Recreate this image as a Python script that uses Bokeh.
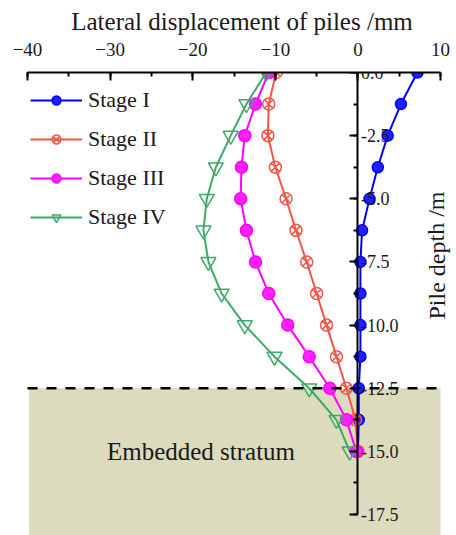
from bokeh.plotting import figure
from bokeh.models import (Range1d, SingleIntervalTicker, BoxAnnotation, Label,
                          Legend, LegendItem, NumeralTickFormatter)
from bokeh.embed import file_html
from bokeh.resources import INLINE

depth = [0, -1.25, -2.5, -3.75, -5, -6.25, -7.5, -8.75, -10, -11.25, -12.5, -13.75, -15]
stage1 = [7.2, 5.2, 3.6, 2.4, 1.4, 0.5, 0.3, 0.3, 0.3, 0.3, 0.1, 0.1, 0.0]
stage2 = [-9.9, -10.8, -10.9, -10.0, -8.7, -7.5, -6.2, -5.0, -3.8, -2.6, -1.4, -0.3, 0.0]
stage3 = [-10.8, -12.4, -13.7, -14.1, -14.2, -13.5, -12.4, -10.8, -8.5, -5.9, -3.4, -1.4, -0.2]
stage4 = [-11.1, -13.5, -15.4, -17.2, -18.3, -18.7, -18.1, -16.5, -13.7, -10.1, -5.9, -2.6, -1.0]
stage_names = ["Stage I", "Stage II", "Stage III", "Stage IV"]
stratum_top = -12.5
stratum_label = "Embedded stratum"
x_min, x_max = -40, 10
y_min, y_max = -17.5, 0

FONT = "Liberation Serif"
TXT = "#1a1a1a"

p = figure(width=456, height=535, x_range=Range1d(x_min, 11.93), y_range=Range1d(-18.33, y_max),
           output_backend="svg", toolbar_location=None,
           x_axis_location="above", y_axis_location="right",
           min_border_left=27, min_border_right=0, min_border_top=72, min_border_bottom=0)
p.grid.visible = False
p.outline_line_color = None
p.background_fill_color = "white"
p.border_fill_color = "white"

# stratum
p.add_layout(BoxAnnotation(top=stratum_top, left=-39.8, right=x_max, fill_color="#DCDBBD",
                           fill_alpha=1.0, line_color=None, level="underlay"))
p.segment(x0=[x_min], y0=[stratum_top], x1=[x_max], y1=[stratum_top], line_color="black",
          line_width=2.5, line_dash="10 9", level="overlay")
p.add_layout(Label(x=-19, y=-15.0, text=stratum_label, text_align="center",
                   text_baseline="middle", text_font=FONT, text_font_size="25px",
                   text_color=TXT))

# x axis (top)
xa = p.xaxis[0]
xa.bounds = (x_min, x_max)
xa.ticker = SingleIntervalTicker(interval=10, num_minor_ticks=2)
xa.axis_label = "Lateral displacement of piles /mm"
xa.axis_label_text_font = FONT
xa.axis_label_text_font_style = "normal"
xa.axis_label_text_font_size = "25px"
xa.axis_label_text_color = TXT
xa.axis_label_standoff = 5
xa.major_label_text_font = FONT
xa.major_label_text_font_size = "19px"
xa.major_label_text_color = TXT
xa.major_label_standoff = 17
xa.axis_line_width = 2
xa.major_tick_line_width = 2
xa.minor_tick_line_width = 2
xa.major_tick_in = 8
xa.major_tick_out = 0
xa.minor_tick_in = 4
xa.minor_tick_out = 0

# y axis at x = 0
ya = p.yaxis[0]
ya.fixed_location = 0
ya.bounds = (y_min, y_max)
ya.ticker = SingleIntervalTicker(interval=2.5, num_minor_ticks=2)
ya.formatter = NumeralTickFormatter(format="0.0")
ya.major_label_text_font = FONT
ya.major_label_text_font_size = "18px"
ya.major_label_text_color = TXT
ya.major_label_standoff = 3
ya.axis_line_width = 2
ya.major_tick_line_width = 2
ya.minor_tick_line_width = 2
ya.major_tick_in = 8
ya.major_tick_out = 0
ya.minor_tick_in = 4
ya.minor_tick_out = 0

p.add_layout(Label(x=409, y=280, x_units="screen", y_units="screen",
                   text="Pile depth /m", angle=1.5708, text_align="center",
                   text_baseline="middle", text_font=FONT, text_font_size="24px",
                   text_color=TXT))

# series
styles = [
    dict(color="#0000FF", marker="circle", size=11, fill="#2020FF", fill_alpha=1.0),
    dict(color="#F05545", marker="circle_x", size=12, fill="white", fill_alpha=0.0),
    dict(color="#FF00FF", marker="circle", size=12, fill="#FF20FF", fill_alpha=1.0),
    dict(color="#3CAA6A", marker="inverted_triangle", size=15, fill="white", fill_alpha=0.0),
]
series = [stage1, stage2, stage3, stage4]
items = []
for name, vals, st in zip(stage_names, series, styles):
    ln = p.line(vals, depth, line_color=st["color"], line_width=2)
    mk = p.scatter(vals, depth, marker=st["marker"], size=st["size"], line_color=st["color"],
                   line_width=1.5, fill_color=st["fill"], fill_alpha=st["fill_alpha"])
    items.append(LegendItem(label=name, renderers=[ln, mk]))

legend = Legend(items=items, location=(3, 305), border_line_color=None,
                background_fill_alpha=0, glyph_width=52, glyph_height=22,
                label_height=22, spacing=13, padding=0, margin=0, label_standoff=6,
                label_text_font=FONT, label_text_font_size="22px",
                label_text_color=TXT)
p.add_layout(legend)

open("out.html", "w").write(file_html(p, INLINE))
